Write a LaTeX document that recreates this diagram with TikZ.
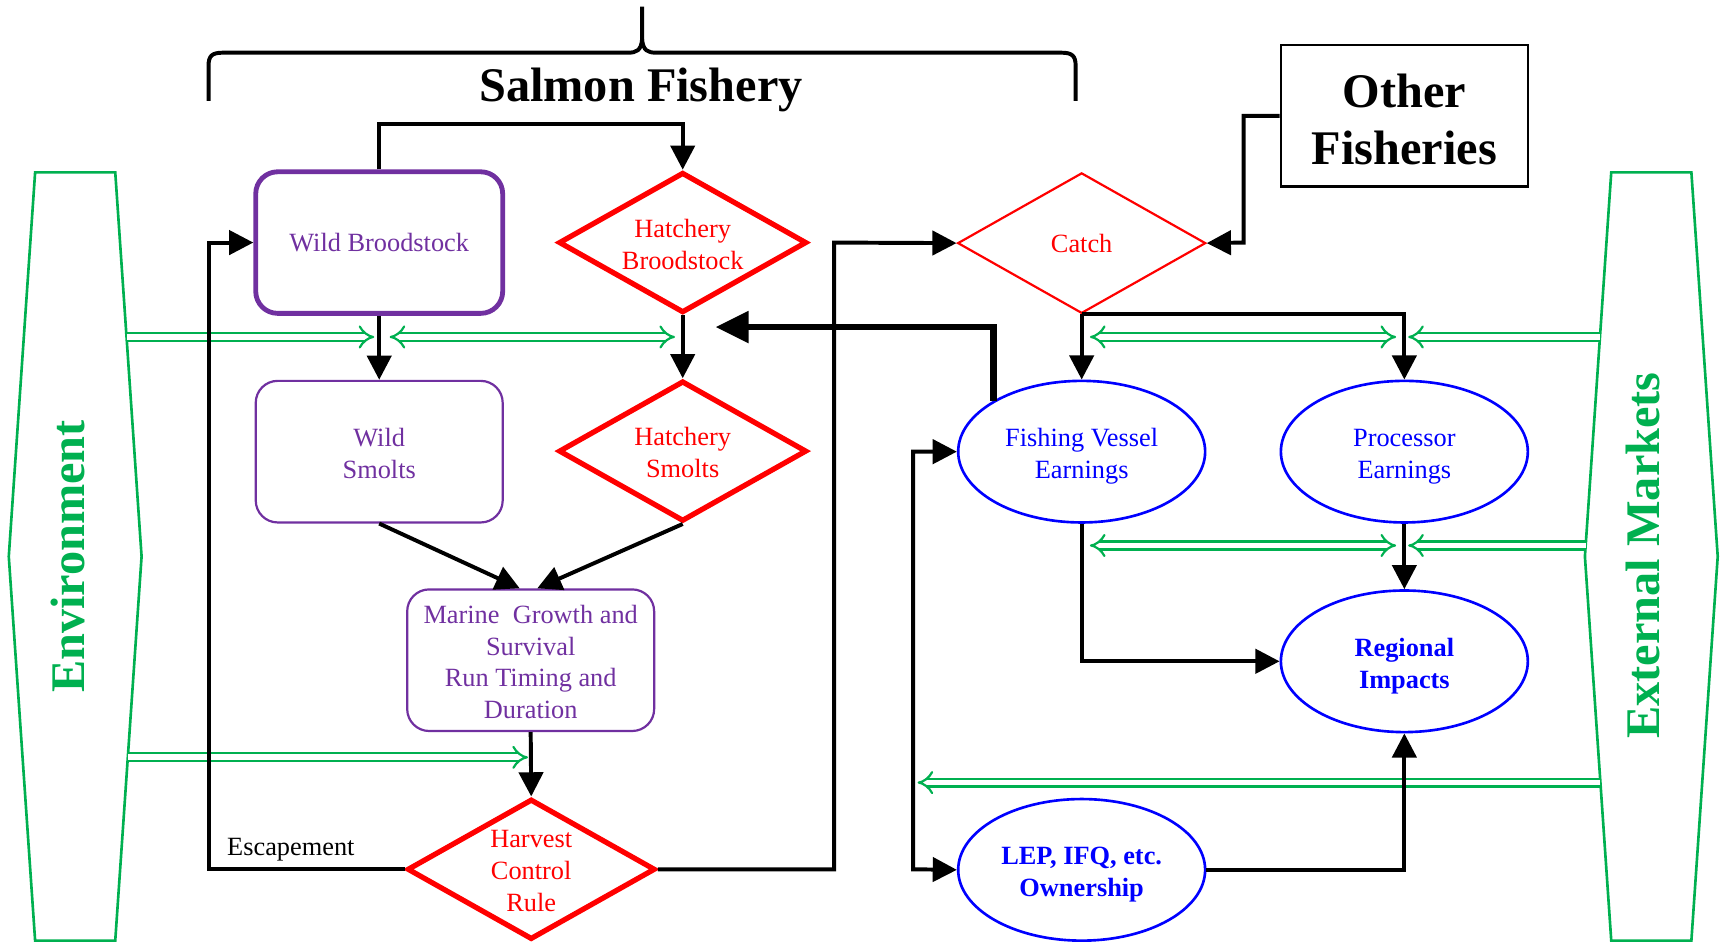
\documentclass[tikz,border=0pt]{standalone}
\usepackage{fontspec}
\setmainfont{Liberation Serif}
\usetikzlibrary{shapes.geometric,arrows.meta}
\definecolor{pur}{HTML}{7030A0}
\definecolor{grn}{HTML}{00B050}
\begin{document}
\begin{tikzpicture}[x=0.5pt,y=-0.5pt,
  txt/.style={font=\fontsize{12}{14.5}\selectfont, align=center, inner sep=0pt},
  pbox/.style={rectangle, rounded corners=10pt, draw=pur, line width=1pt, minimum width=112.5pt, minimum height=64.5pt, inner sep=0pt},
  pboxthick/.style={pbox, line width=2.2pt},
  rdia/.style={diamond, aspect=1.75, draw=red, line width=2.4pt, minimum width=113pt, minimum height=64pt, inner sep=0pt},
  rdiathin/.style={rdia, line width=1pt},
  bell/.style={ellipse, draw=blue, line width=1.2pt, minimum width=112.5pt, minimum height=64.5pt, inner sep=0pt},
  ptxt/.style={txt, text=pur, yshift=-0.8pt},
  rtxt/.style={txt, text=red, yshift=-0.8pt},
  btxt/.style={txt, text=blue, yshift=-2.2pt},
  bbtxt/.style={btxt, font=\fontsize{12}{14.5}\selectfont\bfseries},
  conn/.style={line width=1.8pt, -{Triangle[length=11pt,width=11pt]}},
  dconn/.style={line width=1.8pt, {Triangle[length=11pt,width=11pt]}-{Triangle[length=11pt,width=11pt]}},
  bigconn/.style={line width=2.8pt, -{Triangle[length=15pt,width=14pt]}},
  gr/.style={draw=grn, double=white, double distance=2.6pt, line width=1pt, -{Implies}},
  grr/.style={draw=grn, double=white, double distance=2.6pt, line width=1pt, {Implies}-{Implies}},
  hexa/.style={draw=grn, line width=1.2pt, line join=miter},
  sidelabel/.style={text=grn, font=\fontsize{22}{26}\selectfont\bfseries, rotate=90}
]
\useasboundingbox (0,0) rectangle (1568,858);

% side hexagons
\draw[hexa] (32,157) -- (105,157) -- (129,507) -- (105,857) -- (32,857) -- (8,507) -- cycle;
\draw[hexa] (1468,157) -- (1541,157) -- (1565,507) -- (1541,857) -- (1468,857) -- (1444,507) -- cycle;
\node[sidelabel] (env) at (62,507) {Environment};
\node[sidelabel] (ext) at (1497,506) {External Markets};

% brace and title
\draw[line width=1.8pt, line join=round] (190,92) -- (190,60) .. controls (190,51) and (193,48) .. (203,48) -- (572,48) .. controls (580,48) and (584,46) .. (585,36) -- (585,6);
\draw[line width=1.8pt, line join=round] (585,36) .. controls (586,46) and (590,48) .. (598,48) -- (967,48) .. controls (977,48) and (980,51) .. (980,60) -- (980,92);
\node[font=\fontsize{22}{26}\selectfont\bfseries] (title) at (584,82) {Salmon Fishery};

% shapes
\node[pboxthick] (wb) at (345.5,221) {};
\node[pbox] (ws) at (345.5,411.5) {};
\node[pbox] (mg) at (483.5,601.5) {};
\node[rdia] (hb) at (622,221) {};
\node[rdia] (hs) at (622,411) {};
\node[rdia] (hcr) at (484,792) {};
\node[rdiathin] (catch) at (985.5,221.5) {};
\node[rectangle, draw, line width=1.1pt, minimum width=112.5pt, minimum height=64.5pt, inner sep=0pt] (of) at (1279.5,105.5) {};
\node[bell] (fve) at (985.5,411.5) {};
\node[bell] (pe) at (1279.5,411.5) {};
\node[bell] (ri) at (1279.5,602.5) {};
\node[bell] (lep) at (985.5,792.5) {};

% texts
\node[txt, text=pur] (wbt) at (wb) {Wild Broodstock};
\node[ptxt] (wst) at (ws) {Wild\\Smolts};
\node[ptxt] (mgt) at (mg) {Marine~ Growth and\\Survival\\Run Timing and\\Duration};
\node[rtxt] (hbtx) at (hb) {Hatchery\\Broodstock};
\node[rtxt] (hst) at (hs) {Hatchery\\Smolts};
\node[rtxt] (hcrt) at (hcr) {Harvest\\Control\\Rule};
\node[txt, text=red] (catcht) at (catch) {Catch};
\node[align=center, inner sep=0pt, yshift=-1.5pt, font=\fontsize{22}{26}\selectfont\bfseries] (oft) at (of) {Other\\Fisheries};
\node[btxt] (fvet) at (fve) {Fishing Vessel\\Earnings};
\node[btxt] (pet) at (pe) {Processor\\Earnings};
\node[bbtxt] (rit) at (ri) {Regional\\Impacts};
\node[bbtxt] (lept) at (lep) {LEP, IFQ, etc.\\Ownership};
\node[txt] (esc) at (265,774) {Escapement};

% junction coordinates
\coordinate (j1) at (622,113);
\coordinate (j2) at (190,221);
\coordinate (j3) at (760,221);
\coordinate (j4) at (1133,221);
\coordinate (j5) at (832,792);
\coordinate (hbt) at (652,298);

% green arrows
\coordinate (e1) at (115.3,307); \coordinate (e1t) at (341,307);
\coordinate (e2a) at (355,307); \coordinate (e2b) at (615,307);
\coordinate (e3) at (116.5,690); \coordinate (e3t) at (481,690);
\coordinate (m1a) at (993,307); \coordinate (m1b) at (1272,307);
\coordinate (m2) at (1457.7,307); \coordinate (m2t) at (1283,307);
\coordinate (m3a) at (993,497); \coordinate (m3b) at (1272,497);
\coordinate (m4) at (1444.7,497); \coordinate (m4t) at (1283,497);
\coordinate (m5) at (1458,713); \coordinate (m5t) at (836,713);
\draw[gr] (e1) -- (e1t);
\draw[grr] (e2a) -- (e2b);
\draw[gr] (e3) -- (e3t);
\draw[grr] (m1a) -- (m1b);
\draw[gr] (m2) -- (m2t);
\draw[grr] (m3a) -- (m3b);
\draw[gr] (m4) -- (m4t);
\draw[gr] (m5) -- (m5t);

% black connectors
\draw[conn] (wb.north) |- (j1) -- (hb.north);
\draw[conn] (wb.south) -- (ws.north);
\draw[conn] (hb.south) -- (hs.north);
\draw[conn] (ws.south) -- ([xshift=-5pt]mg.north);
\draw[conn] (hs.south) -- ([xshift=3pt]mg.north);
\draw[conn] (mg.south) -- (hcr.north);
\draw[conn] (hcr.west) -| (j2) -- (wb.west);
\draw[conn] (hcr.east) -| (j3) -- (catch.west);
\draw[conn] (of.west) -| (j4) -- (catch.east);
\draw[conn] (catch.south) -- (fve.north);
\draw[conn] (catch.south) -| (pe.north);
\draw[bigconn] (fve.north west) |- (hbt);
\draw[conn] (fve.south) |- (ri.west);
\draw[conn] (pe.south) -- (ri.north);
\draw[conn] (lep.east) -| (ri.south);
\draw[dconn] (fve.west) -| (j5) -- (lep.west);
\end{tikzpicture}
\end{document}
